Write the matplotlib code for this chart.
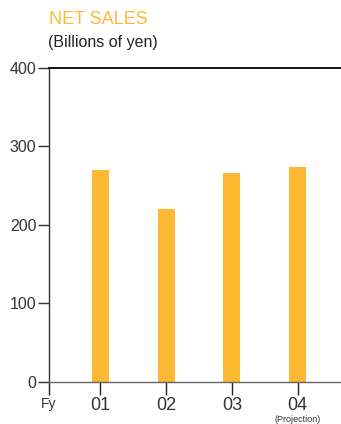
import matplotlib
matplotlib.use("Agg")
import matplotlib.pyplot as plt

# Net sales by fiscal year (billions of yen)
years = ["01", "02", "03", "04"]
net_sales = [270, 220, 266, 274]
y_ticks = [0, 100, 200, 300, 400]

bar_color = "#FDB933"
title_color = "#FDB933"
text_color = "#333333"

plt.rcParams["font.family"] = ["Liberation Sans", "DejaVu Sans"]

fig = plt.figure(figsize=(3.41, 4.24), dpi=100)
ax = fig.add_axes([0.1437, 0.099, 0.8563, 0.7418])

x = list(range(len(years)))
ax.bar(x, net_sales, width=0.26, color=bar_color, zorder=2)

x_left, x_right = -0.784, 3.662
ax.set_xlim(x_left, x_right)
ax.set_ylim(0, 400)

# spines
ax.spines["right"].set_visible(False)
ax.spines["top"].set_color("#111111")
ax.spines["top"].set_linewidth(1.4)
ax.spines["bottom"].set_color("#666666")
ax.spines["bottom"].set_linewidth(1.0)
ax.spines["left"].set_color("#333333")
ax.spines["left"].set_linewidth(1.0)

ax.set_yticks(y_ticks)
ax.set_yticklabels([str(v) for v in y_ticks], fontsize=11.5, color=text_color)
ax.tick_params(axis="y", length=8, width=1.0, color="#333333", pad=1)

ax.set_xticks([x_left] + x)
ax.set_xticklabels(["Fy"] + years, fontsize=13, color=text_color)
ax.get_xticklabels()[0].set_fontsize(10)
ax.tick_params(axis="x", length=9.5, width=1.0, color="#222222", pad=1)

# footnote under the last fiscal year
ax.annotate("(Projection)", xy=(3, 0), xycoords=("data", "axes fraction"),
            xytext=(0, -27.3), textcoords="offset points",
            ha="center", va="center", fontsize=6.5, color=text_color)

fig.text(49 / 341, 1 - 20 / 424, "NET SALES", fontsize=13, color=title_color,
         ha="left", va="center")
fig.text(48 / 341, 1 - 43 / 424, "(Billions of yen)", fontsize=11.5,
         color="#222222", ha="left", va="center")

fig.savefig("out.png", dpi=100)
